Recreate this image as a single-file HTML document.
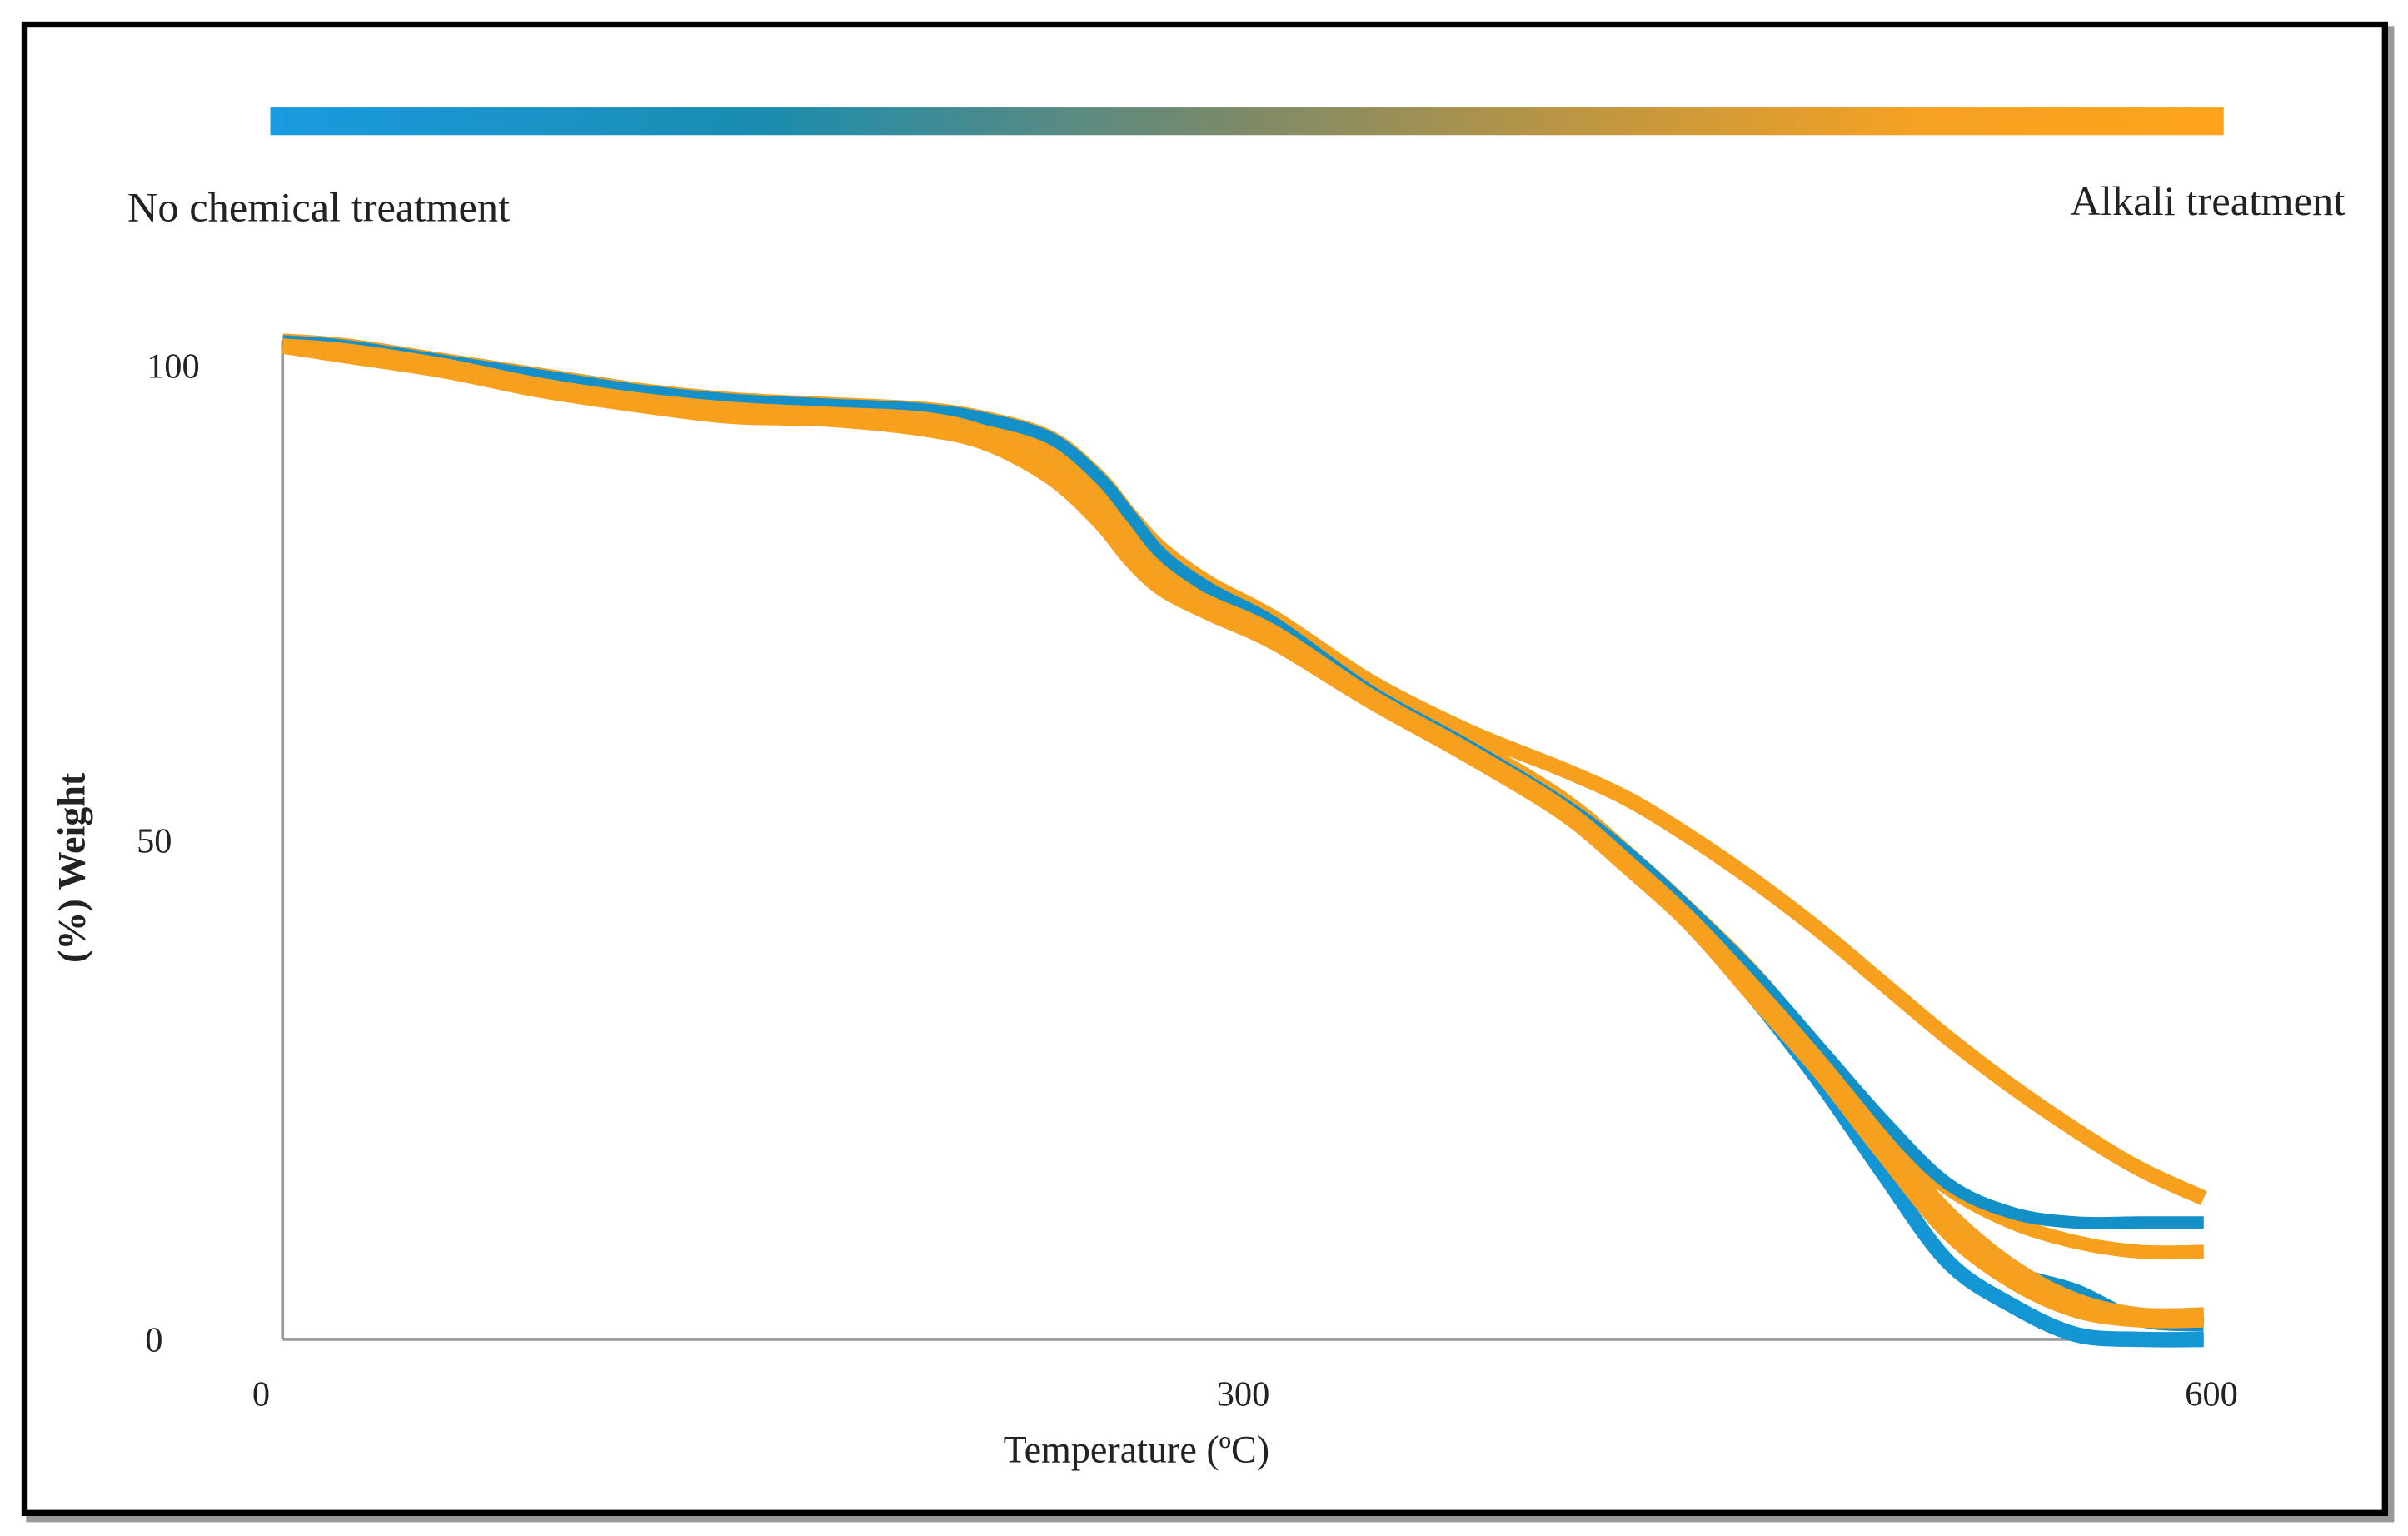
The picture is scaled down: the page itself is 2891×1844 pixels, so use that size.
<!DOCTYPE html>
<html><head><meta charset="utf-8"><style>
html,body{margin:0;padding:0;background:#fff;}
svg{display:block;}
text{font-family:"Liberation Serif",serif;fill:#222;}
</style></head><body>
<svg id="chart" width="2891" height="1844" viewBox="0 0 1568 1000" preserveAspectRatio="none" xmlns="http://www.w3.org/2000/svg">
<defs>
<linearGradient id="grad" x1="0" x2="1" y1="0" y2="0">
<stop offset="0" stop-color="#1a9be0"/>
<stop offset="0.25" stop-color="#1a8cb0"/>
<stop offset="0.5" stop-color="#7e8a68"/>
<stop offset="0.7" stop-color="#c8983c"/>
<stop offset="0.85" stop-color="#f7a222"/>
<stop offset="1" stop-color="#ffa41c"/>
</linearGradient>
</defs>
<rect x="19" y="19" width="1538" height="970" fill="none" stroke="#999" stroke-width="4"/>
<rect x="16" y="16" width="1537" height="969" fill="#fff" stroke="#000" stroke-width="4"/>
<rect x="176" y="70" width="1272" height="18" fill="url(#grad)"/>
<text x="83" y="144" font-size="27" textLength="249" lengthAdjust="spacingAndGlyphs">No chemical  treatment</text>
<text x="1348" y="140" font-size="27" textLength="179" lengthAdjust="spacingAndGlyphs">Alkali  treatment</text>
<line x1="184" y1="222" x2="184" y2="872" stroke="#999" stroke-width="2"/>
<line x1="184" y1="872" x2="1435" y2="872" stroke="#999" stroke-width="2"/>
<g id="ticks"></g>
<g id="series"></g>
<text transform="translate(55,565) rotate(-90)" font-size="25" font-weight="bold" text-anchor="middle">(%) Weight</text>
<text x="740" y="952" font-size="25" text-anchor="middle">Temperature (ºC)</text>
</svg>
<script>
const temps=[0,20,50,80,110,140,170,200,220,240,255,265,275,290,310,340,370,400,420,440,460,480,500,520,540,560,580,600];
const blueA=[102.5,102,100.5,99,97.5,96,95.5,95,94.3,92,88,84,80,76.5,73,66,60.5,54.5,49,42.5,35,26.5,17,8,3.5,0.5,0,0];
const blueB=[102.5,102,100.5,99,97.5,96.5,96,95.5,94.5,92.5,88.5,84.5,80.5,77,73.5,66.5,61,55,50,44,37.5,30,22.5,16,13,12,12,12];
const blueC=[102.5,102,100.5,99,97.5,96,95.5,95,94,91.5,87.5,83.5,80,76.5,73,66,60.5,54.5,49,43,36,27.5,19,11,7,5,2,1.5];
const orangeTop=[102.5,102,100.5,99,97.5,96.5,96,95.5,94.5,92.5,88.5,84.5,81,77.5,74,67.5,62.5,58.5,55.5,51.5,47,42,36.5,31,26,21.5,17.5,14.5];
const orangeD=[102.5,101.5,100,98.5,97,96,95.5,95,94,91.5,87,83,79.5,76,73,67,61.5,55.5,50,44,37.5,29.5,21,15.5,12,10,9,9];
const orangeE=[102,101,99.5,97.5,96,94.8,94.5,93.5,92,88.5,84,80,77,74.5,71.5,65.5,60,54,48.5,42.5,35,27.5,19,11,6,3,2,2];
const orangeF=[102,101.5,100,98,96.5,95.5,95,94.5,93,90,85.5,81.5,78,75.5,72.5,66,60.5,54.5,49,43,36,28.5,20.5,13,7.5,4,2.5,2.5];
const yTicks=[0,50,100];
const xTicks=[0,300,600];
const X=t=>184+t*(1435-184)/600;
const Y=w=>872-w*(872-238)/100;
const NS="http://www.w3.org/2000/svg";
const tg=document.getElementById('ticks');
yTicks.forEach(v=>{const t=document.createElementNS(NS,'text');


t.setAttribute('x',v===0?106:(v===50?112:130));t.setAttribute('y',Y(v)+(v===50?0:8));t.setAttribute('font-size','23');t.setAttribute('text-anchor','end');t.textContent=v;tg.appendChild(t);});
xTicks.forEach(v=>{const t=document.createElementNS(NS,'text');


t.setAttribute('x',X(v)-(v===0?14:(v===300?0:-5)));t.setAttribute('y',915);t.setAttribute('font-size','23');t.setAttribute('text-anchor','middle');t.textContent=v;tg.appendChild(t);});
const sg=document.getElementById('series');
function smooth(pts){let d='M'+pts[0][0].toFixed(1)+','+pts[0][1].toFixed(1);
for(let i=0;i<pts.length-1;i++){const p0=pts[i-1]||pts[i],p1=pts[i],p2=pts[i+1],p3=pts[i+2]||p2;
const c1=[p1[0]+(p2[0]-p0[0])/6,p1[1]+(p2[1]-p0[1])/6],c2=[p2[0]-(p3[0]-p1[0])/6,p2[1]-(p3[1]-p1[1])/6];
d+='C'+c1.map(v=>v.toFixed(1)).join(',')+' '+c2.map(v=>v.toFixed(1)).join(',')+' '+p2[0].toFixed(1)+','+p2[1].toFixed(1);}
return d;}
const list=[[blueA,'#1496d4','series-untreated-a',10],[blueC,'#1490c8','series-untreated-c',9],[orangeTop,'#f7a01e','series-alkali-top',10],[orangeD,'#f7a01e','series-alkali-d',9],[blueB,'#1490c8','series-untreated-b',8],[orangeF,'#f5a020','series-alkali-f',10],[orangeE,'#f7a01e','series-alkali-e',10]];
list.forEach(([vals,col,name,w])=>{const p=document.createElementNS(NS,'path');
const pts=vals.map((v,i)=>[X(temps[i]),Y(v)]);
p.setAttribute('d',smooth(pts));p.setAttribute('fill','none');p.setAttribute('stroke',col);p.setAttribute('stroke-width',w);p.setAttribute('stroke-linejoin','round');


sg.appendChild(p);});
</script>
</body></html>
